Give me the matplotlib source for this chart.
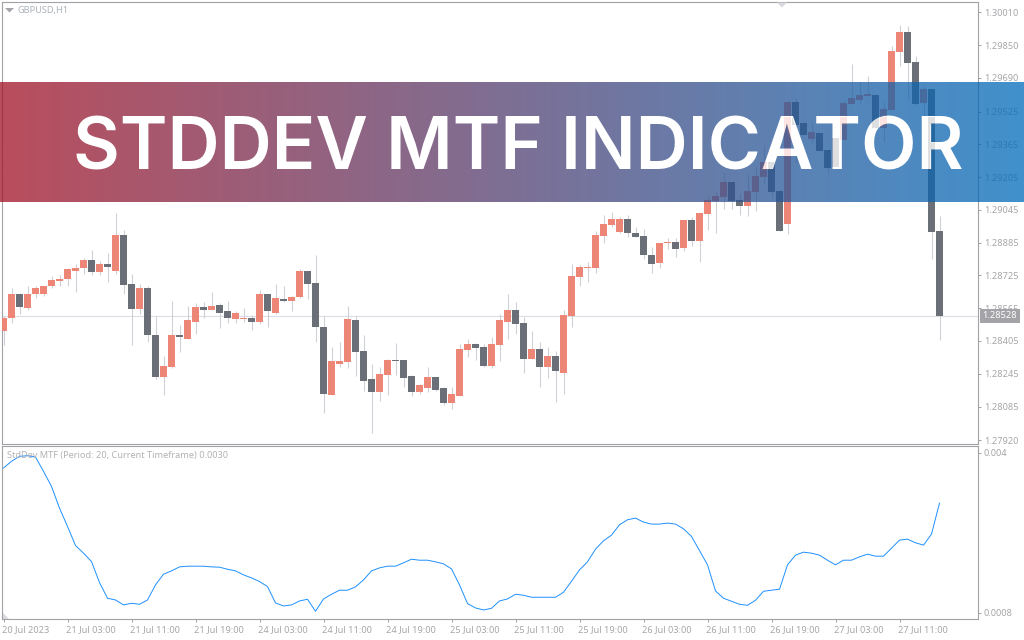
import numpy as np
import matplotlib
matplotlib.use('Agg')
import matplotlib.pyplot as plt
from matplotlib.font_manager import FontProperties
from matplotlib.patches import Polygon, PathPatch
from matplotlib.textpath import TextPath
from matplotlib.transforms import Affine2D, IdentityTransform, ScaledTranslation

# prices in 1e-5 units
opens = [128456,128515,128632,128568,128632,128632,128671,128700,128710,128749,128763,128802,128744,128783,128749,128924,128685,128563,128666,128436,
         128227,128276,128436,128417,128500,128573,128558,128583,128549,128510,128510,128519,128500,128632,128544,128612,128602,128622,128749,128690,
         128475,128139,128295,128300,128505,128354,128217,128154,128241,128310,128310,128232,128154,128173,128227,128173,128100,128134,128363,128388,
         128378,128285,128383,128500,128558,128495,128319,128368,128280,128334,128251,128529,128719,128763,128763,128919,128973,128939,129002,128934,
         128919,128827,128788,128881,128886,128861,128998,128891,129027,129086,129110,129183,129095,129066,129134,129208,129281,129139,128978,129573,
         129471,129393,129422,129339,129398,129388,129564,129583,129603,129608,129447,129534,129817,129915,129769,129569,129637,128944]
closes = [128519,128632,128573,128636,128666,128671,128705,128710,128754,128763,128802,128744,128783,128768,128924,128680,128563,128666,128436,128227,
          128285,128436,128422,128505,128573,128558,128578,128544,128519,128544,128519,128500,128632,128549,128617,128602,128622,128749,128685,128471,
          128144,128305,128305,128510,128349,128212,128154,128246,128310,128305,128222,128158,128188,128227,128168,128100,128144,128368,128388,128373,
          128285,128388,128505,128558,128490,128319,128368,128280,128334,128256,128534,128724,128768,128768,128924,128978,129002,129002,128934,128915,
          128827,128783,128885,128886,128856,128998,128891,129032,129091,129115,129183,129086,129066,129139,129212,129281,129134,128944,129573,129461,
          129412,129427,129334,129251,129256,129569,129593,129608,129612,129447,129539,129822,129915,129764,129564,129637,128939,128528]
highs = [128529,128666,128641,128671,128671,128675,128724,128729,128763,128783,128812,128851,128797,128836,129032,128949,128734,128685,128675,128529,
         128334,128602,128485,128578,128588,128597,128646,128588,128602,128549,128568,128534,128656,128636,128685,128671,128627,128758,128749,128827,
         128529,128378,128402,128578,128529,128432,128295,128280,128319,128397,128310,128241,128197,128280,128227,128178,128178,128388,128417,128393,
         128388,128422,128539,128632,128593,128524,128456,128402,128378,128358,128558,128783,128778,128793,128944,129022,129036,129012,129022,128963,
         128954,128866,128885,128910,128910,128998,129012,129032,129115,129134,129232,129183,129125,129227,129261,129356,129281,129144,129583,129593,
         129471,129471,129422,129339,129398,129583,129759,129671,129700,129612,129573,129847,129949,129944,129798,129651,129637,129017]
lows = [128383,128495,128539,128558,128617,128627,128666,128675,128671,128646,128734,128729,128729,128695,128734,128636,128383,128539,128402,128217,
        128139,128271,128349,128417,128441,128515,128554,128466,128495,128495,128500,128461,128490,128475,128539,128593,128549,128617,128612,128402,
        128051,128139,128276,128271,128236,128163,127958,128110,128139,128241,128178,128134,128144,128158,128163,128090,128071,128134,128329,128310,
        128280,128271,128305,128417,128441,128251,128315,128178,128222,128105,128144,128475,128671,128695,128739,128885,128963,128934,128915,128915,
        128807,128739,128763,128856,128817,128842,128871,128793,128949,128934,129051,129051,129022,129017,129042,129169,129105,128944,128925,129274,
        129412,129373,129331,129227,129256,129388,129564,129564,129599,129427,129378,129534,129749,129588,129554,129471,128803,128412]

# indicator values in 1e-6 units
stddev = [3699,3833,3933,3946,3920,3632,3330,2895,2527,2145,1991,1823,1402,1087,1053,953,986,966,1053,1355,
          1569,1636,1716,1730,1730,1730,1716,1710,1669,1636,1556,1495,1422,1321,993,933,953,1033,1067,826,
          1073,1167,1248,1248,1315,1455,1636,1696,1730,1730,1797,1870,1850,1850,1817,1777,1676,1355,980,893,
          852,886,1033,1073,1167,1147,1107,1107,1107,1107,1207,1428,1656,1817,2071,2239,2353,2560,2661,2694,
          2614,2574,2574,2594,2574,2480,2326,2044,1757,1234,1087,1027,966,946,1047,1227,1248,1268,1757,1951,
          2011,1991,1951,1850,1757,1850,1850,1917,1971,1931,1931,2091,2252,2272,2199,2152,2373,2995]

price_ticks = [1.30010,1.29850,1.29690,1.29525,1.29365,1.29205,1.29045,1.28885,1.28725,1.28565,1.28405,1.28245,1.28085,1.27920]
time_labels = ['20 Jul 2023','21 Jul 03:00','21 Jul 11:00','21 Jul 19:00','24 Jul 03:00','24 Jul 11:00','24 Jul 19:00','25 Jul 03:00',
               '25 Jul 11:00','25 Jul 19:00','26 Jul 03:00','26 Jul 11:00','26 Jul 19:00','27 Jul 03:00','27 Jul 11:00']
last_price = 1.28528
title = 'STDDEV MTF INDICATOR'

W, H = 1024, 640
UP = '#ee8677'
DOWN = '#6b7078'
WICK = '#cfd0d8'
FRAME = '#a2a2a6'
TXT = '#a6a6aa'
FS = 6.6

plt.rcParams['font.family'] = ['Noto Sans', 'DejaVu Sans']
plt.rcParams['font.size'] = FS

o = np.array(opens) / 1e5
c = np.array(closes) / 1e5
h = np.array(highs) / 1e5
l = np.array(lows) / 1e5
sd = np.array(stddev) / 1e6
x = np.arange(len(o))
up = c >= o
body_colors = np.where(up, UP, DOWN)


def box(left, top, right, bottom):
    return [left / W, 1 - bottom / H, (right - left) / W, (bottom - top) / H]


fig = plt.figure(figsize=(W / 100, H / 100), dpi=100, facecolor='white')
ax = fig.add_axes(box(2, 2, 978, 444))
ax2 = fig.add_axes(box(2, 446, 978, 619))
xlim = (-0.1875, 121.8125)
ylim = (1.27902, 1.30060)

for a in (ax, ax2):
    for s in a.spines.values():
        s.set_color(FRAME)
        s.set_linewidth(0.8)
    a.set_xlim(*xlim)
    a.yaxis.tick_right()
    a.tick_params(axis='y', length=2.2, width=0.7, color=FRAME, labelcolor=TXT, pad=2, labelsize=FS)

# candles
ax.set_ylim(*ylim)
ax.axhline(last_price, color='#dcdce4', lw=0.8, zorder=1)
ax.vlines(x, l, h, color=WICK, lw=0.8, zorder=2)
ax.bar(x, np.abs(c - o), bottom=np.minimum(o, c), width=0.875, color=body_colors,
       linewidth=0, zorder=3, antialiased=False)
ax.set_yticks(price_ticks, ['%.5f' % t for t in price_ticks])
ax.set_xticks([])
ax.text(1.0045, last_price, '%.5f' % last_price, transform=ax.get_yaxis_transform(), color='white', fontsize=FS,
        va='center', ha='left', zorder=10, clip_on=False,
        bbox=dict(facecolor='#a4a4a8', edgecolor='none', pad=2))
ax.text(18 / W, 1 - 10 / H, 'GBPUSD,H1', transform=fig.transFigure, color='#aab2ba', fontsize=FS, va='center')

# indicator
ax2.set_ylim(0.000671, 0.00414)
ax2.plot(x, sd, color='#1e90ff', lw=0.7)
ax2.set_yticks([0.004, 0.0008], ['0.004', '0.0008'])
ax2.set_xticks(x[::8], time_labels, ha='left')
ax2.tick_params(axis='x', length=2.2, width=0.7, color=FRAME, labelcolor=TXT, pad=2, labelsize=FS)
nudge = ScaledTranslation(-2 / 100, 0, fig.dpi_scale_trans)
for lab in ax2.get_xticklabels():
    lab.set_transform(lab.get_transform() + nudge)
ax2.text(7 / W, 1 - 455.5 / H, 'StdDev MTF (Period: 20, Current Timeframe) 0.0030', transform=fig.transFigure,
         color='#b2b2b6', fontsize=FS, va='center')

# small markers
for pts, col in [([(5, 8), (14, 8), (9.5, 12.5)], '#a6a6aa'),
                 ([(777, 2.5), (787, 2.5), (782, 7.5)], '#d8d8de'),
                 ([(3, 613), (3, 619), (9, 619)], '#d8d8de')]:
    fig.add_artist(Polygon([(px / W, 1 - py / H) for px, py in pts], closed=True, transform=fig.transFigure,
                           facecolor=col, edgecolor='none', zorder=4))

# banner, semi transparent gradient
banner_alpha = 0.75
left_col = np.array([162, 18, 38]) / 255
right_col = np.array([0, 108, 188]) / 255
t = np.linspace(0, 1, 512)[None, :, None]
grad = left_col[None, None, :] * (1 - t) + right_col[None, None, :] * t
rgba = np.dstack([grad, np.full(grad.shape[:2], banner_alpha)])
bax = fig.add_axes(box(0, 82, 1024, 202), zorder=5)
bax.imshow(rgba, aspect='auto', extent=(0, 1, 0, 1), interpolation='bilinear')
bax.axis('off')

title_pt = 52
title_y = H - 169.5
fp = FontProperties(family='Inter', weight='semibold')
fig.text(518 / W, title_y / H, title, color='white', fontsize=title_pt, fontproperties=fp,
         ha='center', va='baseline', zorder=6).set_fontsize(title_pt)

# candles show faintly through the letters
glyphs = TextPath((0, 0), title, size=title_pt * 100 / 72, prop=fp)
ext = glyphs.get_extents()
clip = PathPatch(glyphs, transform=Affine2D().translate(518 - (ext.x0 + ext.x1) / 2, title_y) + IdentityTransform())
tax = fig.add_axes(box(2, 2, 978, 444), zorder=7)
tax.patch.set_alpha(0)
tax.axis('off')
tax.set_xlim(*xlim)
tax.set_ylim(*ylim)
faint = tax.bar(x, np.abs(c - o), bottom=np.minimum(o, c), width=0.875, color=body_colors, alpha=0.22, linewidth=0)
for b in faint:
    b.set_clip_path(clip.get_path(), clip.get_transform())

fig.savefig('out.png', dpi=100)
